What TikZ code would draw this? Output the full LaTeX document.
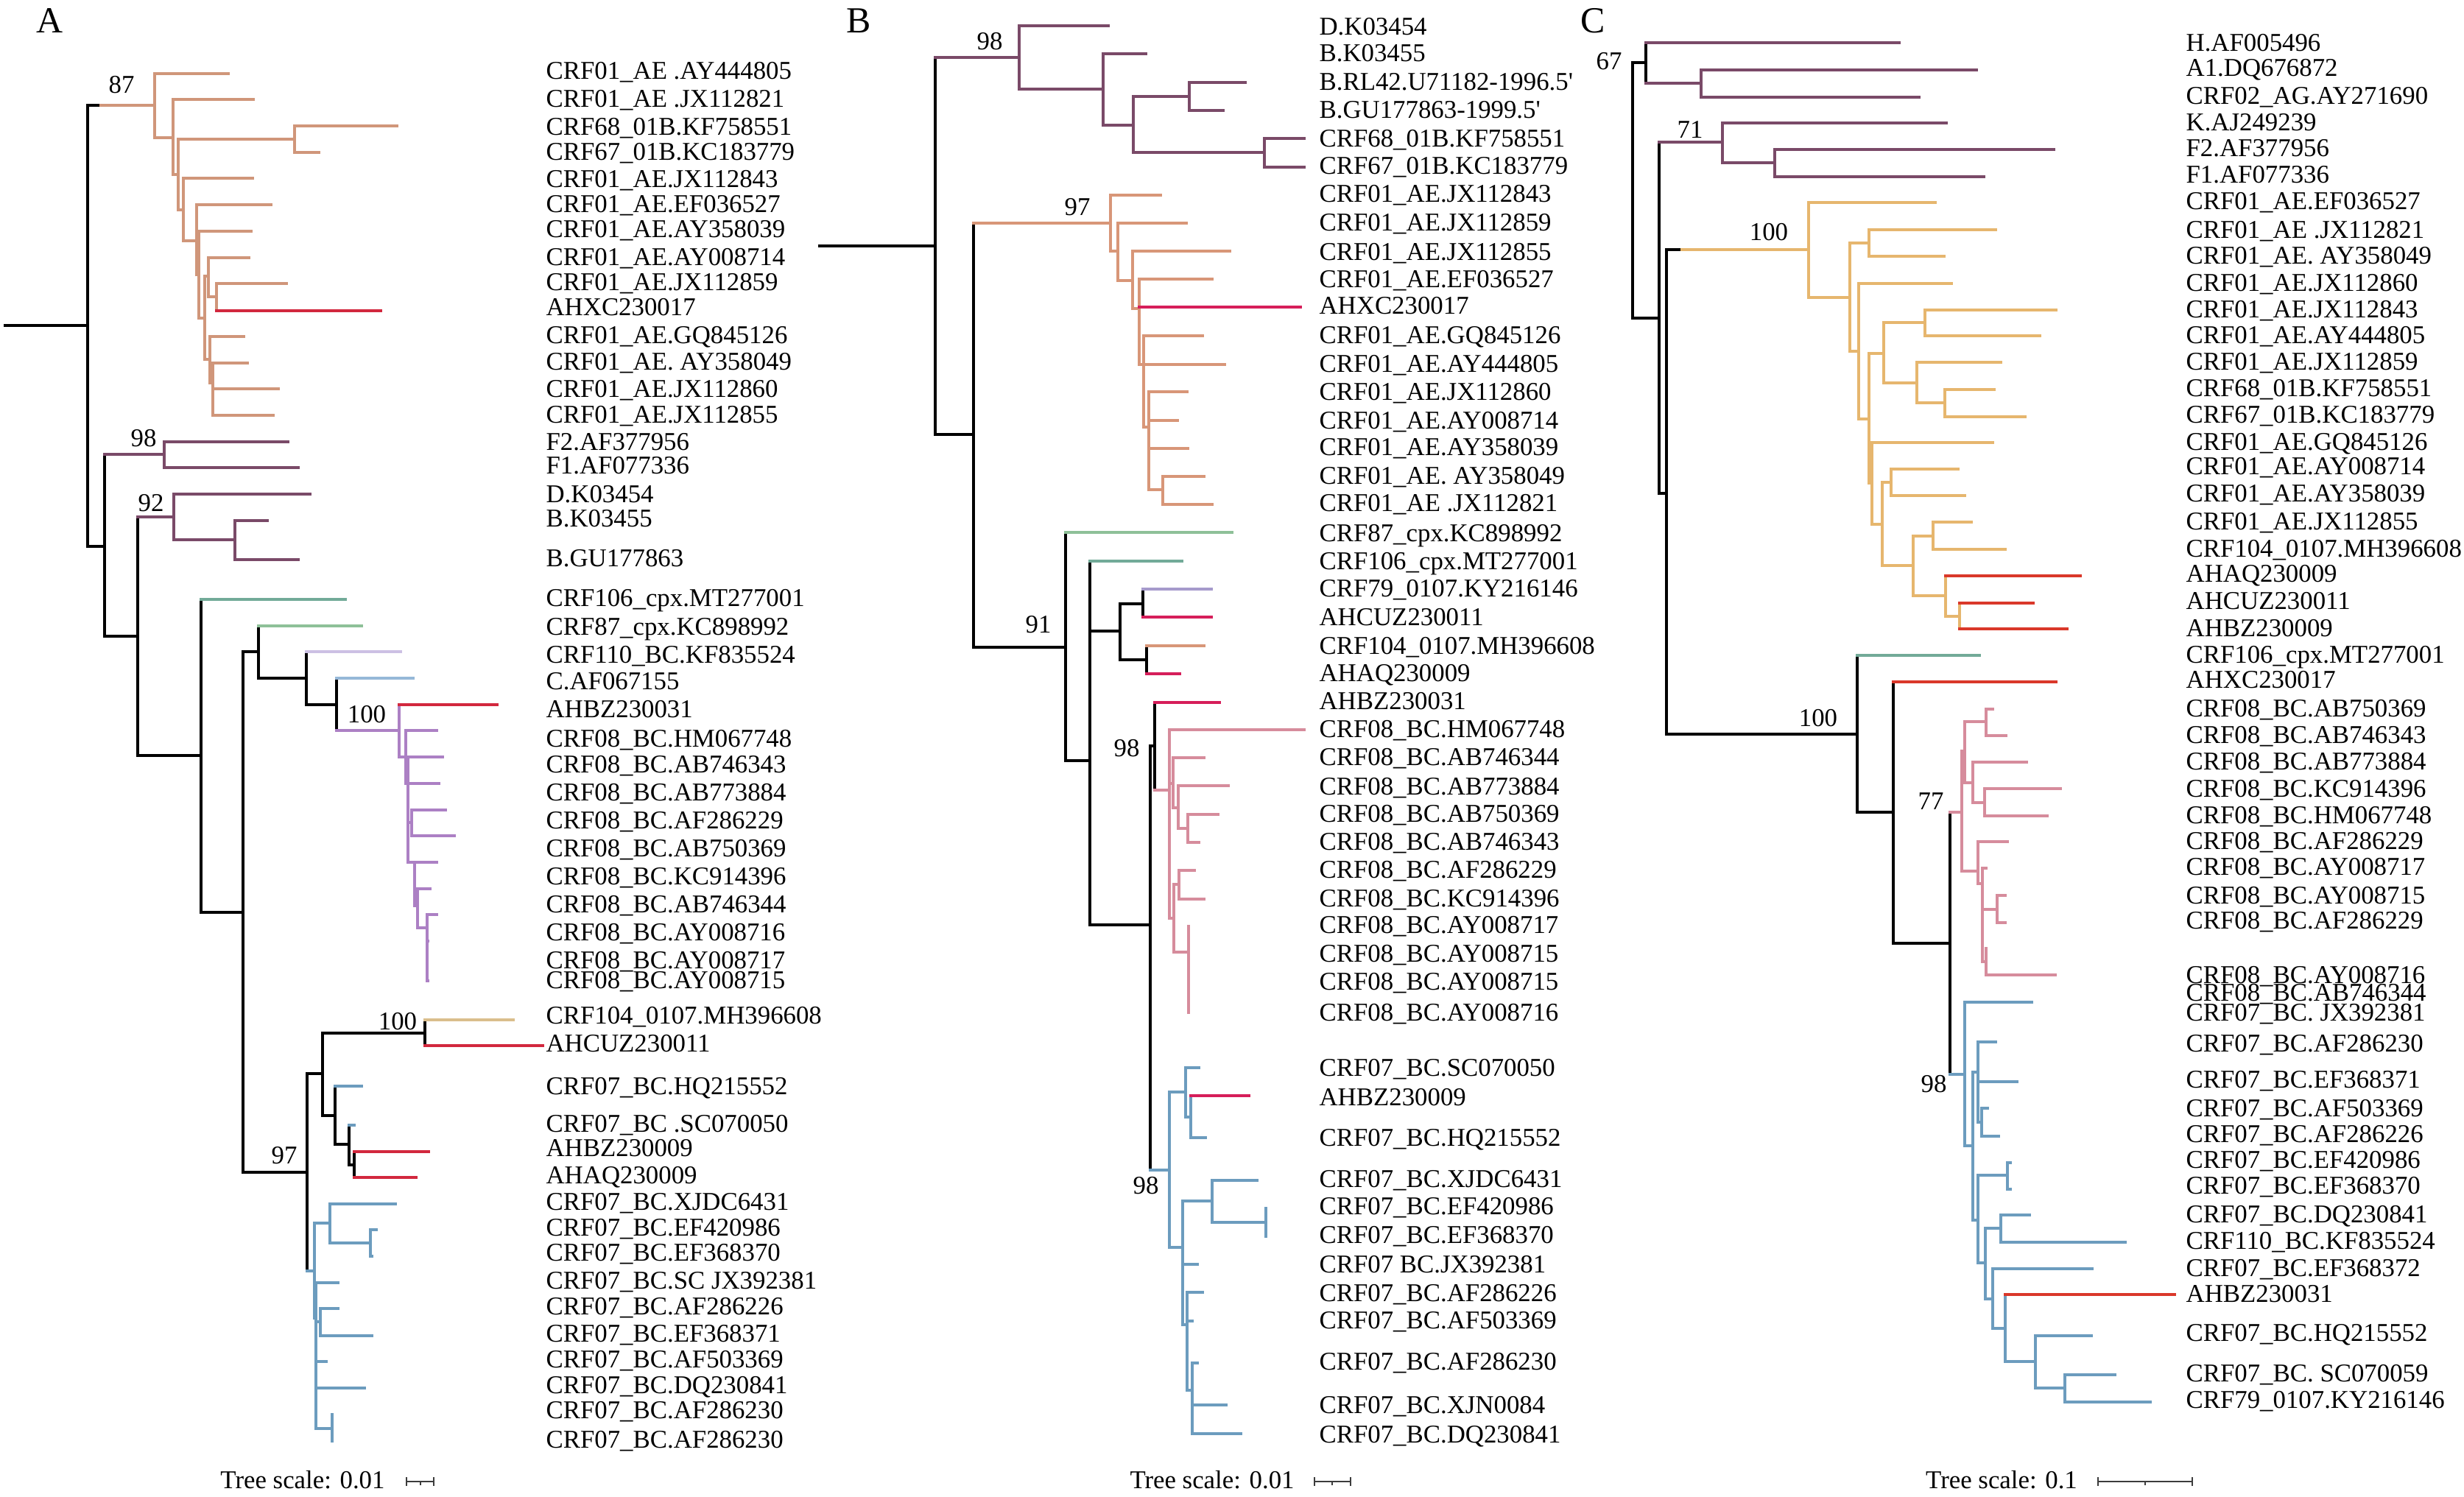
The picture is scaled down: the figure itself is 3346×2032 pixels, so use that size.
\documentclass[tikz,border=0pt]{standalone}
\usepackage{fontspec}
\setmainfont{Liberation Serif}
\definecolor{orA}{RGB}{208,150,122}
\definecolor{orB}{RGB}{216,150,120}
\definecolor{orC}{RGB}{230,182,110}
\definecolor{pur}{RGB}{122,74,104}
\definecolor{redA}{RGB}{210,40,62}
\definecolor{redB}{RGB}{214,30,90}
\definecolor{redC}{RGB}{218,56,42}
\definecolor{teal}{RGB}{114,170,152}
\definecolor{lgr}{RGB}{142,192,152}
\definecolor{lav}{RGB}{204,192,228}
\definecolor{lavB}{RGB}{166,154,204}
\definecolor{lblu}{RGB}{150,184,216}
\definecolor{purA}{RGB}{172,128,196}
\definecolor{tanA}{RGB}{218,190,140}
\definecolor{blu}{RGB}{108,156,190}
\definecolor{pink}{RGB}{214,140,156}
\definecolor{sbar}{RGB}{60,60,60}
\newcommand{\labfnt}{\fontsize{9.9pt}{11pt}\selectfont}
\newcommand{\cladeat}[5]{%
  \draw[color=#2] (#1 |- #3) -- (#1 |- #4);
  \foreach \chd/\clr in {#5} {\draw[color=\clr] (#1 |- \chd) -- (\chd);}%
}
\tikzset{
  lab/.style={anchor=base west, inner sep=0pt, yshift=-3.3pt, font=\labfnt},
  bs/.style={inner sep=0pt, font=\labfnt},
  pl/.style={inner sep=0pt, font=\fontsize{14.2pt}{16pt}\selectfont},
  scl/.style={color=sbar, line width=0.8pt}
}
\begin{document}
\begin{tikzpicture}[x=0.01cm, y=-0.01cm, line width=0.9pt, line cap=rect]
\path[use as bounding box] (0,0) rectangle (3346,2032);

% ================= Panel A =================
\node[pl] (pA) at (68,28) {A};
\coordinate (aRoot) at (7,442);
\coordinate (aR) at (119,442);
\coordinate (a87) at (210,143);
\coordinate (a87k) at (133,143);
\coordinate (aL1) at (310,100);
\coordinate (aN3) at (235,187);
\coordinate (aL2) at (344,135);
\coordinate (aN4) at (242,237);
\coordinate (aN5) at (400,189);
\coordinate (aL3) at (539,171);
\coordinate (aL4) at (433,207);
\coordinate (aN6) at (249,285);
\coordinate (aL5) at (343,242);
\coordinate (aN7) at (267,327);
\coordinate (aL6) at (368,278);
\coordinate (aN8) at (270,373);
\coordinate (aL7) at (341,314);
\coordinate (aN9) at (278,432);
\coordinate (aN10) at (283,375);
\coordinate (aL8) at (338,350);
\coordinate (aN11) at (294,403);
\coordinate (aL9) at (389,385);
\coordinate (aL10) at (517,422);
\coordinate (aN12) at (285,488);
\coordinate (aL11) at (331,457);
\coordinate (aN13) at (289,520);
\coordinate (aL12) at (336,493);
\coordinate (aL13) at (378,528);
\coordinate (aL14) at (371,564);
\coordinate (aN14) at (142,742);
\coordinate (aF) at (223,617);
\coordinate (aLF2) at (391,600);
\coordinate (aLF1) at (405,635);
\coordinate (aN15) at (187,864);
\coordinate (aDB) at (236,702);
\coordinate (aLD) at (421,671);
\coordinate (aN17) at (319,733);
\coordinate (aLB1) at (363,707);
\coordinate (aLB2) at (405,760);
\coordinate (aN16) at (273,1026);
\coordinate (aL106) at (469,814);
\coordinate (aN18) at (330,1239);
\coordinate (aN19) at (351,885);
\coordinate (aL87) at (491,850);
\coordinate (aN20) at (416,921);
\coordinate (aL110) at (544,885);
\coordinate (aN21) at (457,957);
\coordinate (aLC) at (561,921);
\coordinate (aN22) at (542,992);
\coordinate (aLBZ31) at (675,957);
\coordinate (aN23) at (551,1028);
\coordinate (aLHM) at (593,992);
\coordinate (aN24) at (554,1064);
\coordinate (aL43) at (601,1028);
\coordinate (aL84) at (596,1064);
\coordinate (aN25) at (559,1117);
\coordinate (aL29) at (605,1100);
\coordinate (aL69) at (617,1135);
\coordinate (aN26) at (563,1171);
\coordinate (aL96) at (593,1171);
\coordinate (aN27) at (567,1230);
\coordinate (aL44) at (584,1207);
\coordinate (aN28) at (580,1260);
\coordinate (aL16) at (593,1242);
\coordinate (aL17) at (581,1278);
\coordinate (aL15) at (581,1332);
\coordinate (aN30) at (417,1592);
\coordinate (aN31) at (438,1458);
\coordinate (aN32) at (577,1403);
\coordinate (aL104) at (697,1385);
\coordinate (aLCUZ) at (737,1420);
\coordinate (aN33) at (455,1515);
\coordinate (aLHQ) at (491,1475);
\coordinate (aN34) at (474,1554);
\coordinate (aLSC) at (481,1528);
\coordinate (aN35) at (481,1582);
\coordinate (aLBZ09) at (582,1564);
\coordinate (aLAQ) at (565,1599);
\coordinate (aN40) at (427,1726);
\coordinate (aN41) at (448,1661);
\coordinate (aLXJ) at (537,1635);
\coordinate (aN43) at (503,1688);
\coordinate (aLE86) at (511,1670);
\coordinate (aLE70) at (505,1706);
\coordinate (aN42) at (429,1790);
\coordinate (aLJX) at (459,1742);
\coordinate (aN44) at (435,1795);
\coordinate (aL226) at (459,1777);
\coordinate (aL371) at (505,1814);
\coordinate (aL503) at (443,1849);
\coordinate (aLDQ) at (495,1885);
\coordinate (aN45) at (451,1940);
\coordinate (aL230a) at (451,1921);
\coordinate (aL230b) at (451,1957);

\draw (aRoot) -- (aR);
\cladeat{aR}{black}{a87}{aN14}{a87/orA, aN14/black}
\draw (aR |- a87) -- (a87k);
\cladeat{a87}{orA}{aL1}{aN3}{aL1/orA, aN3/orA}
\cladeat{aN3}{orA}{aL2}{aN4}{aL2/orA, aN4/orA}
\cladeat{aN4}{orA}{aN5}{aN6}{aN5/orA, aN6/orA}
\cladeat{aN5}{orA}{aL3}{aL4}{aL3/orA, aL4/orA}
\cladeat{aN6}{orA}{aL5}{aN7}{aL5/orA, aN7/orA}
\cladeat{aN7}{orA}{aL6}{aN8}{aL6/orA, aN8/orA}
\cladeat{aN8}{orA}{aL7}{aN9}{aL7/orA, aN9/orA}
\cladeat{aN9}{orA}{aN10}{aN12}{aN10/orA, aN12/orA}
\cladeat{aN10}{orA}{aL8}{aN11}{aL8/orA, aN11/orA}
\cladeat{aN11}{orA}{aL9}{aL10}{aL9/orA, aL10/redA}
\cladeat{aN12}{orA}{aL11}{aN13}{aL11/orA, aN13/orA}
\cladeat{aN13}{orA}{aL12}{aL14}{aL12/orA, aL13/orA, aL14/orA}
\cladeat{aN14}{black}{aF}{aN15}{aF/pur, aN15/black}
\cladeat{aF}{pur}{aLF2}{aLF1}{aLF2/pur, aLF1/pur}
\cladeat{aN15}{black}{aDB}{aN16}{aDB/pur, aN16/black}
\cladeat{aDB}{pur}{aLD}{aN17}{aLD/pur, aN17/pur}
\cladeat{aN17}{pur}{aLB1}{aLB2}{aLB1/pur, aLB2/pur}
\cladeat{aN16}{black}{aL106}{aN18}{aL106/teal, aN18/black}
\cladeat{aN18}{black}{aN19}{aN30}{aN19/black, aN30/black}
\cladeat{aN19}{black}{aL87}{aN20}{aL87/lgr, aN20/black}
\cladeat{aN20}{black}{aL110}{aN21}{aL110/lav, aN21/black}
\cladeat{aN21}{black}{aLC}{aN22}{aLC/lblu, aN22/purA}
\cladeat{aN22}{purA}{aLBZ31}{aN23}{aLBZ31/redA, aN23/purA}
\cladeat{aN23}{purA}{aLHM}{aN24}{aLHM/purA, aN24/purA}
\cladeat{aN24}{purA}{aL43}{aN26}{aL43/purA, aL84/purA, aN25/purA, aN26/purA}
\cladeat{aN25}{purA}{aL29}{aL69}{aL29/purA, aL69/purA}
\cladeat{aN26}{purA}{aL96}{aN27}{aL96/purA, aN27/purA}
\cladeat{aN27}{purA}{aL44}{aN28}{aL44/purA, aN28/purA}
\cladeat{aN28}{purA}{aL16}{aL15}{aL16/purA, aL17/purA, aL15/purA}
\cladeat{aN30}{black}{aN31}{aN40}{aN31/black, aN40/blu}
\cladeat{aN31}{black}{aN32}{aN33}{aN32/black, aN33/black}
\cladeat{aN32}{black}{aL104}{aLCUZ}{aL104/tanA, aLCUZ/redA}
\cladeat{aN33}{black}{aLHQ}{aN34}{aLHQ/blu, aN34/black}
\cladeat{aN34}{black}{aLSC}{aN35}{aLSC/blu, aN35/black}
\cladeat{aN35}{black}{aLBZ09}{aLAQ}{aLBZ09/redA, aLAQ/redA}
\cladeat{aN40}{blu}{aN41}{aN42}{aN41/blu, aN42/blu}
\cladeat{aN41}{blu}{aLXJ}{aN43}{aLXJ/blu, aN43/blu}
\cladeat{aN43}{blu}{aLE86}{aLE70}{aLE86/blu, aLE70/blu}
\cladeat{aN42}{blu}{aLJX}{aN45}{aLJX/blu, aN44/blu, aL503/blu, aLDQ/blu, aN45/blu}
\cladeat{aN44}{blu}{aL226}{aL371}{aL226/blu, aL371/blu}
\cladeat{aN45}{blu}{aL230a}{aL230b}{aL230a/blu, aL230b/blu}

\node[bs] (bsA1) at (165,115) {87};
\node[bs] (bsA2) at (195,595) {98};
\node[bs] (bsA3) at (205,683) {92};
\node[bs] (bsA4) at (498,970) {100};
\node[bs] (bsA5) at (540,1387) {100};
\node[bs] (bsA6) at (386,1569) {97};

\foreach \ty/\tx [count=\ni] in {96/CRF01\_AE .AY444805, 134/CRF01\_AE .JX112821, 172/CRF68\_01B.KF758551, 206/CRF67\_01B.KC183779, 243/CRF01\_AE.JX112843, 277/CRF01\_AE.EF036527, 311/CRF01\_AE.AY358039, 349/CRF01\_AE.AY008714, 383/CRF01\_AE.JX112859, 417/AHXC230017, 455/CRF01\_AE.GQ845126, 491/CRF01\_AE. AY358049, 528/CRF01\_AE.JX112860, 563/CRF01\_AE.JX112855, 600/F2.AF377956, 632/F1.AF077336, 671/D.K03454, 704/B.K03455, 758/B.GU177863, 812/CRF106\_cpx.MT277001, 851/CRF87\_cpx.KC898992, 889/CRF110\_BC.KF835524, 925/C.AF067155, 963/AHBZ230031, 1003/CRF08\_BC.HM067748, 1038/CRF08\_BC.AB746343, 1076/CRF08\_BC.AB773884, 1114/CRF08\_BC.AF286229, 1152/CRF08\_BC.AB750369, 1190/CRF08\_BC.KC914396, 1228/CRF08\_BC.AB746344, 1266/CRF08\_BC.AY008716, 1304/CRF08\_BC.AY008717, 1331/CRF08\_BC.AY008715, 1379/CRF104\_0107.MH396608, 1417/AHCUZ230011, 1475/CRF07\_BC.HQ215552, 1526/CRF07\_BC .SC070050, 1559/AHBZ230009, 1596/AHAQ230009, 1632/CRF07\_BC.XJDC6431, 1667/CRF07\_BC.EF420986, 1701/CRF07\_BC.EF368370, 1739/CRF07\_BC.SC JX392381, 1774/CRF07\_BC.AF286226, 1811/CRF07\_BC.EF368371, 1846/CRF07\_BC.AF503369, 1881/CRF07\_BC.DQ230841, 1915/CRF07\_BC.AF286230, 1955/CRF07\_BC.AF286230}
  {\node[lab] (tA\ni) at (740,\ty) {\tx};}

\node[bs] (sA) at (411,2010) {Tree scale: 0.01};
\coordinate (sA1) at (552,2012);
\coordinate (sA2) at (589,2012);
\coordinate (sAm) at (571,2012);
\draw[scl] (sA1) -- (sA2);
\draw[scl] (sA1) +(0,-5) -- +(0,5);
\draw[scl] (sA2) +(0,-5) -- +(0,5);
\draw[scl] (sAm) -- +(0,4);

% ================= Panel B =================
\node[pl] (pB) at (1166,28) {B};
\coordinate (bRoot) at (1113,334);
\coordinate (bR) at (1270,334);
\coordinate (bN1) at (1384,78);
\coordinate (bLD) at (1505,35);
\coordinate (bN2) at (1498,121);
\coordinate (bLB) at (1556,73);
\coordinate (bN3) at (1539,170);
\coordinate (bN4) at (1615,131);
\coordinate (bLRL) at (1691,112);
\coordinate (bLGU) at (1661,150);
\coordinate (bN5) at (1717,207);
\coordinate (bL68) at (1771,188);
\coordinate (bL67) at (1771,227);
\coordinate (bN6) at (1322,590);
\coordinate (bN7) at (1508,303);
\coordinate (bL43) at (1576,265);
\coordinate (bN8) at (1518,341);
\coordinate (bL59) at (1611,303);
\coordinate (bN9) at (1538,381);
\coordinate (bL55) at (1670,341);
\coordinate (bN10) at (1547,419);
\coordinate (bL27) at (1646,379);
\coordinate (bLXC) at (1766,417);
\coordinate (bN11) at (1553,495);
\coordinate (bLGQ) at (1633,456);
\coordinate (bL05) at (1663,495);
\coordinate (bN12) at (1560,580);
\coordinate (bL60) at (1612,532);
\coordinate (bL14) at (1599,571);
\coordinate (bL39) at (1613,609);
\coordinate (bN13) at (1579,665);
\coordinate (bL49) at (1635,647);
\coordinate (bL21) at (1646,685);
\coordinate (bN20) at (1447,879);
\coordinate (bL87) at (1673,723);
\coordinate (bN21) at (1480,1033);
\coordinate (bL106) at (1605,762);
\coordinate (bN22) at (1521,857);
\coordinate (bN23) at (1552,820);
\coordinate (bL79) at (1645,800);
\coordinate (bLCUZ) at (1645,838);
\coordinate (bN24) at (1557,896);
\coordinate (bL104) at (1635,877);
\coordinate (bLAQ) at (1602,915);
\coordinate (bN30) at (1562,1256);
\coordinate (bN31) at (1568,1013);
\coordinate (bLBZ31) at (1656,954);
\coordinate (bN32) at (1588,1073);
\coordinate (bLHM) at (1771,991);
\coordinate (bN33) at (1593,1064);
\coordinate (bL44) at (1635,1029);
\coordinate (bN34) at (1600,1097);
\coordinate (bL84) at (1668,1067);
\coordinate (bN35) at (1613,1125);
\coordinate (bL69) at (1654,1106);
\coordinate (bL43b) at (1628,1144);
\coordinate (bN36) at (1594,1247);
\coordinate (bN37) at (1601,1201);
\coordinate (bL29) at (1622,1182);
\coordinate (bL96) at (1635,1221);
\coordinate (bN38) at (1614,1293);
\coordinate (bL17) at (1614,1258);
\coordinate (bL16) at (1614,1375);
\coordinate (bN40) at (1588,1589);
\coordinate (bN41) at (1610,1483);
\coordinate (bLSC) at (1628,1450);
\coordinate (bN42) at (1617,1517);
\coordinate (bLBZ09) at (1696,1488);
\coordinate (bLHQ) at (1637,1545);
\coordinate (bN44) at (1606,1694);
\coordinate (bN45) at (1646,1631);
\coordinate (bLXJ) at (1707,1603);
\coordinate (bN46) at (1719,1660);
\coordinate (bLE86) at (1719,1641);
\coordinate (bLE70) at (1719,1679);
\coordinate (bLJX) at (1626,1717);
\coordinate (bN47) at (1612,1799);
\coordinate (bL226) at (1633,1755);
\coordinate (bL369) at (1619,1794);
\coordinate (bN48) at (1619,1888);
\coordinate (bL230) at (1626,1851);
\coordinate (bLXJN) at (1665,1908);
\coordinate (bLDQ) at (1685,1947);

\draw (bRoot) -- (bR);
\cladeat{bR}{black}{bN1}{bN6}{bN1/pur, bN6/black}
\cladeat{bN1}{pur}{bLD}{bN2}{bLD/pur, bN2/pur}
\cladeat{bN2}{pur}{bLB}{bN3}{bLB/pur, bN3/pur}
\cladeat{bN3}{pur}{bN4}{bN5}{bN4/pur, bN5/pur}
\cladeat{bN4}{pur}{bLRL}{bLGU}{bLRL/pur, bLGU/pur}
\cladeat{bN5}{pur}{bL68}{bL67}{bL68/pur, bL67/pur}
\cladeat{bN6}{black}{bN7}{bN20}{bN7/orB, bN20/black}
\cladeat{bN7}{orB}{bL43}{bN8}{bL43/orB, bN8/orB}
\cladeat{bN8}{orB}{bL59}{bN9}{bL59/orB, bN9/orB}
\cladeat{bN9}{orB}{bL55}{bN10}{bL55/orB, bN10/orB}
\cladeat{bN10}{orB}{bL27}{bN11}{bL27/orB, bLXC/redB, bN11/orB}
\cladeat{bN11}{orB}{bLGQ}{bN12}{bLGQ/orB, bL05/orB, bN12/orB}
\cladeat{bN12}{orB}{bL60}{bN13}{bL60/orB, bL14/orB, bL39/orB, bN13/orB}
\cladeat{bN13}{orB}{bL49}{bL21}{bL49/orB, bL21/orB}
\cladeat{bN20}{black}{bL87}{bN21}{bL87/lgr, bN21/black}
\cladeat{bN21}{black}{bL106}{bN30}{bL106/teal, bN22/black, bN30/black}
\cladeat{bN22}{black}{bN23}{bN24}{bN23/black, bN24/black}
\cladeat{bN23}{black}{bL79}{bLCUZ}{bL79/lavB, bLCUZ/redB}
\cladeat{bN24}{black}{bL104}{bLAQ}{bL104/orB, bLAQ/redB}
\cladeat{bN30}{black}{bN31}{bN40}{bN31/black, bN40/blu}
\cladeat{bN31}{black}{bLBZ31}{bN32}{bLBZ31/redB, bN32/pink}
\cladeat{bN32}{pink}{bLHM}{bN36}{bLHM/pink, bN33/pink, bN36/pink}
\cladeat{bN33}{pink}{bL44}{bN34}{bL44/pink, bN34/pink}
\cladeat{bN34}{pink}{bL84}{bN35}{bL84/pink, bN35/pink}
\cladeat{bN35}{pink}{bL69}{bL43b}{bL69/pink, bL43b/pink}
\cladeat{bN36}{pink}{bN37}{bN38}{bN37/pink, bN38/pink}
\cladeat{bN37}{pink}{bL29}{bL96}{bL29/pink, bL96/pink}
\cladeat{bN38}{pink}{bL17}{bL16}{bL17/pink, bL16/pink}
\cladeat{bN40}{blu}{bN41}{bN44}{bN41/blu, bN44/blu}
\cladeat{bN41}{blu}{bLSC}{bN42}{bLSC/blu, bN42/blu}
\cladeat{bN42}{blu}{bLBZ09}{bLHQ}{bLBZ09/redB, bLHQ/blu}
\cladeat{bN44}{blu}{bN45}{bN47}{bN45/blu, bLJX/blu, bN47/blu}
\cladeat{bN45}{blu}{bLXJ}{bN46}{bLXJ/blu, bN46/blu}
\cladeat{bN46}{blu}{bLE86}{bLE70}{bLE86/blu, bLE70/blu}
\cladeat{bN47}{blu}{bL226}{bN48}{bL226/blu, bL369/blu, bN48/blu}
\cladeat{bN48}{blu}{bL230}{bLDQ}{bL230/blu, bLXJN/blu, bLDQ/blu}

\node[bs] (bsB1) at (1344,56) {98};
\node[bs] (bsB2) at (1463,281) {97};
\node[bs] (bsB3) at (1410,848) {91};
\node[bs] (bsB4) at (1530,1016) {98};
\node[bs] (bsB5) at (1556,1610) {98};

\foreach \ty/\tx [count=\ni] in {36/D.K03454, 72/B.K03455, 111/B.RL42.U71182-1996.5\textquotesingle, 149/B.GU177863-1999.5\textquotesingle, 188/CRF68\_01B.KF758551, 225/CRF67\_01B.KC183779, 263/CRF01\_AE.JX112843, 302/CRF01\_AE.JX112859, 342/CRF01\_AE.JX112855, 379/CRF01\_AE.EF036527, 415/AHXC230017, 455/CRF01\_AE.GQ845126, 494/CRF01\_AE.AY444805, 532/CRF01\_AE.JX112860, 571/CRF01\_AE.AY008714, 607/CRF01\_AE.AY358039, 646/CRF01\_AE. AY358049, 683/CRF01\_AE .JX112821, 724/CRF87\_cpx.KC898992, 762/CRF106\_cpx.MT277001, 799/CRF79\_0107.KY216146, 838/AHCUZ230011, 877/CRF104\_0107.MH396608, 914/AHAQ230009, 952/AHBZ230031, 990/CRF08\_BC.HM067748, 1028/CRF08\_BC.AB746344, 1068/CRF08\_BC.AB773884, 1105/CRF08\_BC.AB750369, 1143/CRF08\_BC.AB746343, 1181/CRF08\_BC.AF286229, 1220/CRF08\_BC.KC914396, 1256/CRF08\_BC.AY008717, 1295/CRF08\_BC.AY008715, 1333/CRF08\_BC.AY008715, 1375/CRF08\_BC.AY008716, 1450/CRF07\_BC.SC070050, 1490/AHBZ230009, 1545/CRF07\_BC.HQ215552, 1601/CRF07\_BC.XJDC6431, 1638/CRF07\_BC.EF420986, 1677/CRF07\_BC.EF368370, 1717/CRF07 BC.JX392381, 1756/CRF07\_BC.AF286226, 1793/CRF07\_BC.AF503369, 1849/CRF07\_BC.AF286230, 1908/CRF07\_BC.XJN0084, 1948/CRF07\_BC.DQ230841}
  {\node[lab] (tB\ni) at (1790,\ty) {\tx};}

\node[bs] (sB) at (1646,2010) {Tree scale: 0.01};
\coordinate (sB1) at (1785,2012);
\coordinate (sB2) at (1834,2012);
\coordinate (sBm) at (1809,2012);
\draw[scl] (sB1) -- (sB2);
\draw[scl] (sB1) +(0,-5) -- +(0,5);
\draw[scl] (sB2) +(0,-5) -- +(0,5);
\draw[scl] (sBm) -- +(0,4);

% ================= Panel C =================
\node[pl] (pC) at (2163,28) {C};
\coordinate (cR) at (2217,258);
\coordinate (cN1) at (2235,85);
\coordinate (cLH) at (2579,58);
\coordinate (cN3) at (2310,113);
\coordinate (cLA1) at (2684,95);
\coordinate (cL02) at (2606,132);
\coordinate (cN2) at (2253,432);
\coordinate (cN4) at (2339,193);
\coordinate (cLK) at (2643,167);
\coordinate (cN6) at (2410,221);
\coordinate (cLF2) at (2789,203);
\coordinate (cLF1) at (2694,240);
\coordinate (cN5) at (2263,670);
\coordinate (cN7) at (2456,339);
\coordinate (cN7k) at (2280,339);
\coordinate (cL27) at (2628,275);
\coordinate (cN8) at (2512,404);
\coordinate (cN9) at (2538,330);
\coordinate (cL21) at (2710,312);
\coordinate (cL49) at (2640,348);
\coordinate (cN10) at (2524,477);
\coordinate (cL60) at (2650,385);
\coordinate (cN11) at (2538,569);
\coordinate (cN12) at (2558,480);
\coordinate (cN13) at (2614,438);
\coordinate (cL43) at (2792,421);
\coordinate (cL05) at (2770,456);
\coordinate (cN14) at (2603,520);
\coordinate (cL59) at (2717,492);
\coordinate (cN16) at (2641,547);
\coordinate (cL68) at (2708,529);
\coordinate (cL67) at (2750,566);
\coordinate (cN15) at (2542,656);
\coordinate (cLGQ) at (2706,601);
\coordinate (cN17) at (2556,712);
\coordinate (cN18) at (2568,655);
\coordinate (cL14) at (2659,637);
\coordinate (cL39) at (2668,673);
\coordinate (cN19) at (2598,768);
\coordinate (cN21) at (2625,728);
\coordinate (cL55) at (2677,709);
\coordinate (cL104) at (2723,746);
\coordinate (cN22) at (2642,809);
\coordinate (cLAQ) at (2825,782);
\coordinate (cN23) at (2661,837);
\coordinate (cLCUZ) at (2761,819);
\coordinate (cLBZ09) at (2807,854);
\coordinate (cN20) at (2522,997);
\coordinate (cL106) at (2688,890);
\coordinate (cN24) at (2571,1103);
\coordinate (cLXC) at (2792,926);
\coordinate (cN25) at (2648,1281);
\coordinate (cN26) at (2664,1103);
\coordinate (cN27) at (2668,1020);
\coordinate (cN28) at (2697,980);
\coordinate (cL69) at (2706,963);
\coordinate (cL43b) at (2724,999);
\coordinate (cN29) at (2679,1063);
\coordinate (cL84) at (2752,1035);
\coordinate (cN31) at (2695,1090);
\coordinate (cL96) at (2798,1071);
\coordinate (cLHM) at (2780,1108);
\coordinate (cN30) at (2686,1183);
\coordinate (cL29) at (2726,1143);
\coordinate (cN32) at (2692,1200);
\coordinate (cL17) at (2697,1179);
\coordinate (cN33) at (2712,1235);
\coordinate (cL15) at (2723,1216);
\coordinate (cL29b) at (2723,1253);
\coordinate (cN34) at (2697,1306);
\coordinate (cL44) at (2697,1288);
\coordinate (cL16) at (2791,1324);
\coordinate (cN40) at (2668,1459);
\coordinate (cLJX) at (2759,1361);
\coordinate (cN41) at (2679,1556);
\coordinate (cN42) at (2686,1456);
\coordinate (cL230) at (2710,1415);
\coordinate (cL371) at (2739,1469);
\coordinate (cN43) at (2691,1524);
\coordinate (cL369) at (2699,1505);
\coordinate (cL226) at (2714,1543);
\coordinate (cN44) at (2686,1657);
\coordinate (cN45) at (2726,1596);
\coordinate (cLE86) at (2730,1579);
\coordinate (cLE70) at (2730,1615);
\coordinate (cN46) at (2696,1715);
\coordinate (cN47) at (2717,1668);
\coordinate (cLDQ) at (2756,1650);
\coordinate (cL110) at (2886,1687);
\coordinate (cN48) at (2706,1764);
\coordinate (cL72) at (2841,1723);
\coordinate (cN49) at (2723,1804);
\coordinate (cLBZ31) at (2953,1758);
\coordinate (cN50) at (2764,1849);
\coordinate (cLHQ) at (2840,1814);
\coordinate (cN51) at (2804,1885);
\coordinate (cLSC) at (2872,1867);
\coordinate (cL79) at (2920,1904);

\cladeat{cR}{black}{cN1}{cN2}{cN1/black, cN2/black}
\cladeat{cN1}{black}{cLH}{cN3}{cLH/pur, cN3/pur}
\cladeat{cN3}{pur}{cLA1}{cL02}{cLA1/pur, cL02/pur}
\cladeat{cN2}{black}{cN4}{cN5}{cN4/pur, cN5/black}
\cladeat{cN4}{pur}{cLK}{cN6}{cLK/pur, cN6/pur}
\cladeat{cN6}{pur}{cLF2}{cLF1}{cLF2/pur, cLF1/pur}
\cladeat{cN5}{black}{cN7}{cN20}{cN7/orC, cN20/black}
\draw (cN5 |- cN7) -- (cN7k);
\cladeat{cN7}{orC}{cL27}{cN8}{cL27/orC, cN8/orC}
\cladeat{cN8}{orC}{cN9}{cN10}{cN9/orC, cN10/orC}
\cladeat{cN9}{orC}{cL21}{cL49}{cL21/orC, cL49/orC}
\cladeat{cN10}{orC}{cL60}{cN11}{cL60/orC, cN11/orC}
\cladeat{cN11}{orC}{cN12}{cN15}{cN12/orC, cN15/orC}
\cladeat{cN12}{orC}{cN13}{cN14}{cN13/orC, cN14/orC}
\cladeat{cN13}{orC}{cL43}{cL05}{cL43/orC, cL05/orC}
\cladeat{cN14}{orC}{cL59}{cN16}{cL59/orC, cN16/orC}
\cladeat{cN16}{orC}{cL68}{cL67}{cL68/orC, cL67/orC}
\cladeat{cN15}{orC}{cLGQ}{cN17}{cLGQ/orC, cN17/orC}
\cladeat{cN17}{orC}{cN18}{cN19}{cN18/orC, cN19/orC}
\cladeat{cN18}{orC}{cL14}{cL39}{cL14/orC, cL39/orC}
\cladeat{cN19}{orC}{cN21}{cN22}{cN21/orC, cN22/orC}
\cladeat{cN21}{orC}{cL55}{cL104}{cL55/orC, cL104/orC}
\cladeat{cN22}{orC}{cLAQ}{cN23}{cLAQ/redC, cN23/orC}
\cladeat{cN23}{orC}{cLCUZ}{cLBZ09}{cLCUZ/redC, cLBZ09/redC}
\cladeat{cN20}{black}{cL106}{cN24}{cL106/teal, cN24/black}
\cladeat{cN24}{black}{cLXC}{cN25}{cLXC/redC, cN25/black}
\cladeat{cN25}{black}{cN26}{cN40}{cN26/pink, cN40/blu}
\cladeat{cN26}{pink}{cN27}{cN30}{cN27/pink, cN30/pink}
\cladeat{cN27}{pink}{cN28}{cN29}{cN28/pink, cN29/pink}
\cladeat{cN28}{pink}{cL69}{cL43b}{cL69/pink, cL43b/pink}
\cladeat{cN29}{pink}{cL84}{cN31}{cL84/pink, cN31/pink}
\cladeat{cN31}{pink}{cL96}{cLHM}{cL96/pink, cLHM/pink}
\cladeat{cN30}{pink}{cL29}{cN32}{cL29/pink, cN32/pink}
\cladeat{cN32}{pink}{cL17}{cN34}{cL17/pink, cN33/pink, cN34/pink}
\cladeat{cN33}{pink}{cL15}{cL29b}{cL15/pink, cL29b/pink}
\cladeat{cN34}{pink}{cL44}{cL16}{cL44/pink, cL16/pink}
\cladeat{cN40}{blu}{cLJX}{cN41}{cLJX/blu, cN41/blu}
\cladeat{cN41}{blu}{cN42}{cN44}{cN42/blu, cN44/blu}
\cladeat{cN42}{blu}{cL230}{cN43}{cL230/blu, cL371/blu, cN43/blu}
\cladeat{cN43}{blu}{cL369}{cL226}{cL369/blu, cL226/blu}
\cladeat{cN44}{blu}{cN45}{cN46}{cN45/blu, cN46/blu}
\cladeat{cN45}{blu}{cLE86}{cLE70}{cLE86/blu, cLE70/blu}
\cladeat{cN46}{blu}{cN47}{cN48}{cN47/blu, cN48/blu}
\cladeat{cN47}{blu}{cLDQ}{cL110}{cLDQ/blu, cL110/blu}
\cladeat{cN48}{blu}{cL72}{cN49}{cL72/blu, cN49/blu}
\cladeat{cN49}{blu}{cLBZ31}{cN50}{cLBZ31/redC, cN50/blu}
\cladeat{cN50}{blu}{cLHQ}{cN51}{cLHQ/blu, cN51/blu}
\cladeat{cN51}{blu}{cLSC}{cL79}{cLSC/blu, cL79/blu}

\node[bs] (bsC1) at (2185,83) {67};
\node[bs] (bsC2) at (2295,176) {71};
\node[bs] (bsC3) at (2402,315) {100};
\node[bs] (bsC4) at (2469,975) {100};
\node[bs] (bsC5) at (2622,1088) {77};
\node[bs] (bsC6) at (2626,1472) {98};

\foreach \ty/\tx [count=\ni] in {58/H.AF005496, 92/A1.DQ676872, 130/CRF02\_AG.AY271690, 166/K.AJ249239, 201/F2.AF377956, 237/F1.AF077336, 273/CRF01\_AE.EF036527, 312/CRF01\_AE .JX112821, 347/CRF01\_AE. AY358049, 384/CRF01\_AE.JX112860, 420/CRF01\_AE.JX112843, 455/CRF01\_AE.AY444805, 491/CRF01\_AE.JX112859, 527/CRF68\_01B.KF758551, 563/CRF67\_01B.KC183779, 600/CRF01\_AE.GQ845126, 633/CRF01\_AE.AY008714, 670/CRF01\_AE.AY358039, 708/CRF01\_AE.JX112855, 745/CRF104\_0107.MH396608, 779/AHAQ230009, 816/AHCUZ230011, 853/AHBZ230009, 889/CRF106\_cpx.MT277001, 923/AHXC230017, 962/CRF08\_BC.AB750369, 998/CRF08\_BC.AB746343, 1034/CRF08\_BC.AB773884, 1071/CRF08\_BC.KC914396, 1107/CRF08\_BC.HM067748, 1142/CRF08\_BC.AF286229, 1177/CRF08\_BC.AY008717, 1216/CRF08\_BC.AY008715, 1250/CRF08\_BC.AF286229, 1324/CRF08\_BC.AY008716, 1348/CRF08\_BC.AB746344, 1375/CRF07\_BC. JX392381, 1417/CRF07\_BC.AF286230, 1466/CRF07\_BC.EF368371, 1505/CRF07\_BC.AF503369, 1540/CRF07\_BC.AF286226, 1575/CRF07\_BC.EF420986, 1610/CRF07\_BC.EF368370, 1649/CRF07\_BC.DQ230841, 1685/CRF110\_BC.KF835524, 1722/CRF07\_BC.EF368372, 1757/AHBZ230031, 1810/CRF07\_BC.HQ215552, 1865/CRF07\_BC. SC070059, 1901/CRF79\_0107.KY216146}
  {\node[lab] (tC\ni) at (2967,\ty) {\tx};}

\node[bs] (sC) at (2718,2010) {Tree scale: 0.1};
\coordinate (sC1) at (2849,2012);
\coordinate (sC2) at (2977,2012);
\coordinate (sCm) at (2913,2012);
\draw[scl] (sC1) -- (sC2);
\draw[scl] (sC1) +(0,-5) -- +(0,5);
\draw[scl] (sC2) +(0,-5) -- +(0,5);
\draw[scl] (sCm) -- +(0,4);
\end{tikzpicture}
\end{document}
